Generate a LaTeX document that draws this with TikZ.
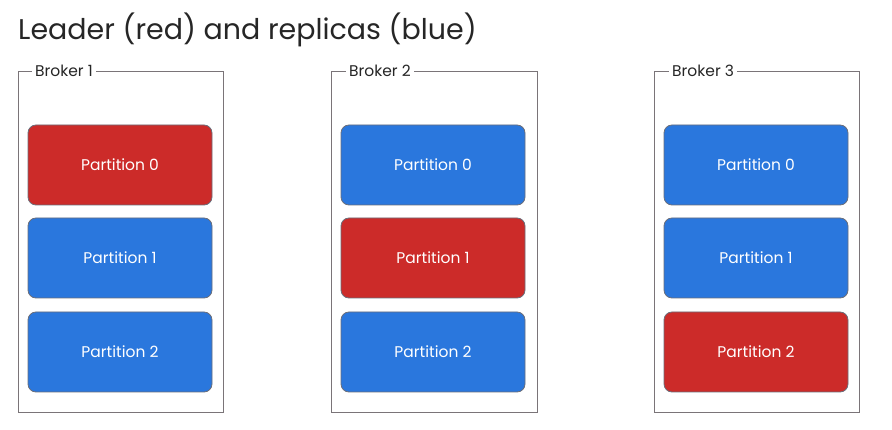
\documentclass[tikz,border=0pt]{standalone}
\usepackage{fontspec}
\setmainfont{Poppins}
\definecolor{leadred}{HTML}{CC2B29}
\definecolor{repblue}{HTML}{2A77DD}
\definecolor{frame}{HTML}{7A7478}
\definecolor{pborder}{HTML}{6A6E7A}
\begin{document}
\begin{tikzpicture}[x=1pt,y=-1pt,
  broker/.style={draw=frame,line width=0.9pt},
  blabel/.style={fill=white,inner sep=3pt,font=\fontsize{15.5}{15.5}\selectfont,text=black!85,anchor=west},
  part/.style={draw=pborder,line width=0.8pt,rounded corners=8pt,minimum width=184pt,minimum height=80pt,inner sep=0pt,text=white,font=\fontsize{15.5}{15.5}\selectfont},
  leader/.style={part,fill=leadred},
  replica/.style={part,fill=repblue}]
\useasboundingbox (0,0) rectangle (892,430);
\node[anchor=base west,inner sep=0pt,font=\fontsize{28.5}{28.5}\selectfont,text=black!85] (title) at (18,40) {Leader (red) and replicas (blue)};
% brokers
\draw[broker] (18,71) rectangle (223,412);
\draw[broker] (331,71) rectangle (537,412);
\draw[broker] (654,71) rectangle (859,412);
\node[blabel] (b1) at (32,71) {Broker 1};
\node[blabel] (b2) at (346,71) {Broker 2};
\node[blabel] (b3) at (669,71) {Broker 3};
% partitions
\node[leader]  (p10) at (120,165) {Partition 0};
\node[replica] (p11) at (120,258) {Partition 1};
\node[replica] (p12) at (120,352) {Partition 2};
\node[replica] (p20) at (433,165) {Partition 0};
\node[leader]  (p21) at (433,258) {Partition 1};
\node[replica] (p22) at (433,352) {Partition 2};
\node[replica] (p30) at (756,165) {Partition 0};
\node[replica] (p31) at (756,258) {Partition 1};
\node[leader]  (p32) at (756,352) {Partition 2};
\end{tikzpicture}
\end{document}
